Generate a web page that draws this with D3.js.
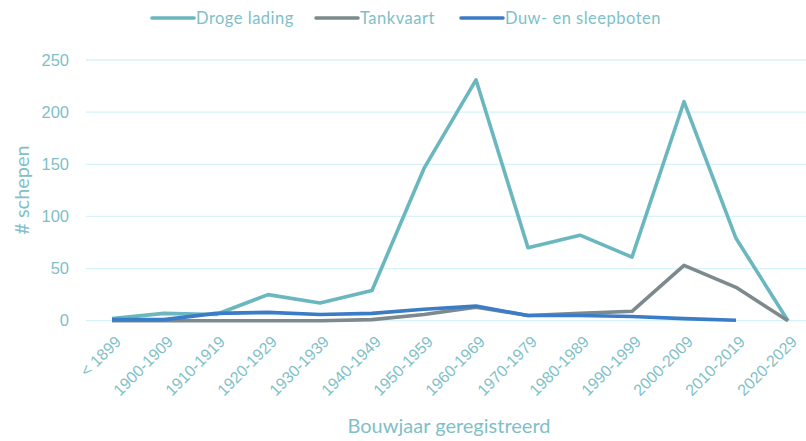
<!DOCTYPE html>
<html>
<head>
<meta charset="utf-8">
<script src="https://cdn.jsdelivr.net/npm/d3@7"></script>
<style>
  body { margin: 0; background: #fff; }
  svg { display: block; font-family: Lato, "Open Sans", sans-serif; }
</style>
</head>
<body>
<svg id="chart" width="806" height="441"></svg>
<script>
var categories = ["< 1899", "1900-1909", "1910-1919", "1920-1929", "1930-1939", "1940-1949",
  "1950-1959", "1960-1969", "1970-1979", "1980-1989", "1990-1999", "2000-2009", "2010-2019", "2020-2029"];
var drogeLading = [2, 7, 6, 25, 17, 29, 146, 231, 70, 82, 61, 210, 79, 0];
var tankvaart = [0, 0, 0, 0, 0, 1, 6, 13, 5, 7, 9, 53, 32, 0];
var duwSleep = [1, 1, 7, 8, 6, 7, 11, 14, 5, 5, 4, 2, 0.5, null];
var yTicks = [0, 50, 100, 150, 200, 250];

var series = [
  { name: "Droge lading", values: drogeLading, color: "#6bb7bf" },
  { name: "Tankvaart", values: tankvaart, color: "#7c8a8d" },
  { name: "Duw- en sleepboten", values: duwSleep, color: "#3b7cc6" }
];

var textColor = "#80bfc7";
var svg = d3.select("#chart");

// plot runs past the right edge, like the original screenshot
var x = d3.scaleBand().domain(categories).range([86, 814]);
var y = d3.scaleLinear().domain([0, 250]).range([320.7, 60]);
var cx = function(c){ return x(c) + x.bandwidth() / 2; };

// gridlines
svg.append("g").selectAll("line").data(yTicks).join("line")
  .attr("x1", 86).attr("x2", 814)
  .attr("y1", function(d){ return y(d); }).attr("y2", function(d){ return y(d); })
  .attr("stroke", "#d6f2fa").attr("stroke-width", 1.3);

// y axis
var yAxis = svg.append("g").attr("transform", "translate(86,0)")
  .call(d3.axisLeft(y).tickValues(yTicks).tickSize(0).tickPadding(17));
yAxis.select(".domain").remove();
yAxis.selectAll("text").attr("fill", textColor).style("font-size", "16.5px");

// x axis
var xAxis = svg.append("g").attr("transform", "translate(0,320.7)")
  .call(d3.axisBottom(x).tickSize(0).tickPadding(0));
xAxis.select(".domain").remove();
xAxis.selectAll("text")
  .attr("fill", textColor).style("font-size", "16px")
  .attr("text-anchor", "end")
  .attr("dy", null).attr("y", 0)
  .attr("transform", "translate(10,22) rotate(-45)");

// lines
var line = d3.line()
  .defined(function(d){ return d.v !== null; })
  .x(function(d){ return cx(d.c); })
  .y(function(d){ return y(d.v); });

series.forEach(function(s){
  var pts = categories.map(function(c, i){ return { c: c, v: s.values[i] }; });
  svg.append("path").datum(pts)
    .attr("d", line)
    .attr("fill", "none")
    .attr("stroke", s.color)
    .attr("stroke-width", 3.6)
    .attr("stroke-linejoin", "round");
});

// legend
var legendX = [152, 316, 461];
series.forEach(function(s, i){
  var g = svg.append("g").attr("transform", "translate(" + legendX[i] + ",18)");
  g.append("line").attr("x1", 0).attr("x2", 42).attr("y1", 0).attr("y2", 0)
    .attr("stroke", s.color).attr("stroke-width", 3.6).attr("stroke-linecap", "round");
  g.append("text").attr("x", 44).attr("y", 6)
    .attr("fill", textColor).style("font-size", "16.5px").style("letter-spacing", "0.5px")
    .text(s.name);
});

// axis titles
svg.append("text")
  .attr("transform", "translate(29,190) rotate(-90)")
  .attr("text-anchor", "middle")
  .attr("fill", textColor).style("font-size", "20px")
  .text("# schepen");

svg.append("text")
  .attr("x", 449).attr("y", 433)
  .attr("text-anchor", "middle")
  .attr("fill", textColor).style("font-size", "20px")
  .text("Bouwjaar geregistreerd");
</script>
</body>
</html>
